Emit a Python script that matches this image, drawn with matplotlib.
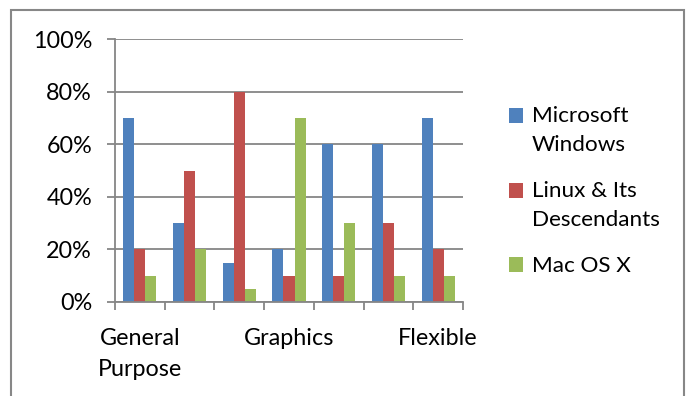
import matplotlib
matplotlib.use("Agg")
import matplotlib.pyplot as plt
import numpy as np
from matplotlib.patches import Rectangle
from matplotlib.legend_handler import HandlerPatch

categories = ["General\nPurpose", "", "", "Graphics", "", "", "Flexible"]
series_names = ["Microsoft\nWindows", "Linux & Its\nDescendants", "Mac OS X"]
windows = [70, 30, 15, 20, 60, 60, 70]
linux = [20, 50, 80, 10, 10, 30, 20]
mac = [10, 20, 5, 70, 30, 10, 10]
colors = ["#4F81BD", "#C0504D", "#9BBB59"]
yticks = [0, 20, 40, 60, 80, 100]

plt.rcParams['font.family'] = ['Lato', 'DejaVu Sans']
FS = 16.8
LFS = 16.2
GRAY = "#868686"

fig = plt.figure(figsize=(6.9, 3.96), dpi=100)
ax = fig.add_axes([115/690, 1-302/396, 348/690, 263/396])

x = np.arange(len(categories))
w = 1/4.5
for i, (vals, c, name) in enumerate(zip([windows, linux, mac], colors, series_names)):
    ax.bar(x + (i-1)*w, vals, width=w, color=c, label=name, zorder=3)

ax.set_xlim(-0.5, len(categories)-0.5)
ax.set_ylim(0, 100)
ax.set_yticks(yticks)
ax.set_yticklabels([f"{v}%" for v in yticks], fontsize=FS)
ax.yaxis.grid(True, color=GRAY, linewidth=1.3, zorder=0)
ax.set_axisbelow(True)
for s in ["top", "right"]:
    ax.spines[s].set_visible(False)
for s in ["left", "bottom"]:
    ax.spines[s].set_color(GRAY)
    ax.spines[s].set_linewidth(1.3)
    ax.spines[s].set_zorder(4)

ax.set_xticks(x)
ax.set_xticklabels(categories, fontsize=FS, linespacing=1.55)
ax.tick_params(axis='x', which='major', length=0, pad=19)
ax.set_xticks(np.arange(-0.5, len(categories), 1), minor=True)
ax.tick_params(axis='x', which='minor', length=5.5, width=1.3, color=GRAY)
ax.tick_params(axis='y', length=5.5, width=1.3, color=GRAY, pad=11)

fig.patches.append(Rectangle((11/690, -0.1), (684-11)/690, (396-10)/396 + 0.1,
                             transform=fig.transFigure, fill=False,
                             edgecolor="#878787", linewidth=1.5))


class TopSquare(HandlerPatch):
    """Square legend key aligned with the first line of a multi-line label."""
    def __init__(self, shift=0.0, **kw):
        super().__init__(**kw)
        self.shift = shift

    def create_artists(self, legend, orig_handle, xdescent, ydescent,
                       width, height, fontsize, trans):
        p = Rectangle((-xdescent, -ydescent + self.shift), width, height)
        self.update_prop(p, orig_handle, legend)
        p.set_transform(trans)
        return [p]


handles = [Rectangle((0, 0), 1, 1, facecolor=c, edgecolor='none') for c in colors]
hmap = {h: TopSquare(shift=name.count("\n") * 10.8) for h, name in zip(handles, series_names)}

leg = fig.legend(handles, series_names, handler_map=hmap,
                 loc='upper left', bbox_to_anchor=(509/690, 1-106/396), frameon=False,
                 fontsize=LFS, handlelength=0.62, handleheight=0.62, handletextpad=0.38,
                 labelspacing=1.17, borderpad=0, borderaxespad=0)
for t in leg.get_texts():
    t.set_linespacing(1.55)

fig.savefig("out.png", dpi=100)
